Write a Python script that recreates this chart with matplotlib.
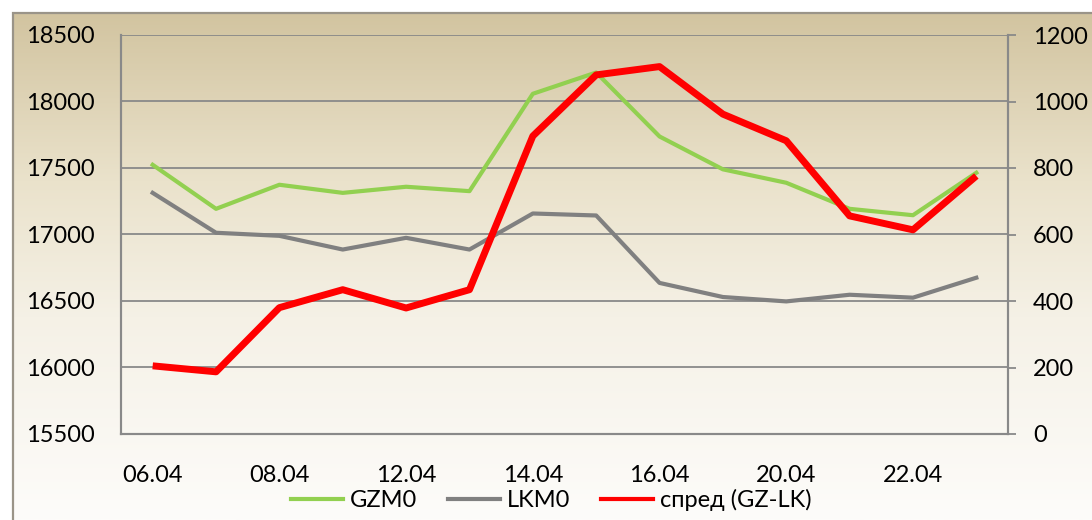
import numpy as np
import matplotlib.pyplot as plt
from matplotlib.colors import LinearSegmentedColormap
from matplotlib.patches import Rectangle
from matplotlib.lines import Line2D

plt.rcParams['font.family'] = ['Lato', 'DejaVu Sans']

dates = ['06.04', '07.04', '08.04', '09.04', '12.04', '13.04', '14.04',
         '15.04', '16.04', '19.04', '20.04', '21.04', '22.04', '23.04']
gzm0 = [17524, 17193, 17374, 17313, 17359, 17326, 18058,
        18218, 17737, 17490, 17389, 17193, 17145, 17464]
lkm0 = [17313, 17013, 16990, 16887, 16975, 16887, 17158,
        17143, 16636, 16530, 16497, 16547, 16525, 16675]
spread = [205, 187, 380, 434, 379, 434, 896,
          1080, 1105, 962, 882, 656, 614, 776]

W, H = 1092, 520
fig = plt.figure(figsize=(W / 100, H / 100), dpi=100)
fig.patch.set_facecolor('white')

# beige gradient panel behind the chart
bg = fig.add_axes([13 / W, 0, 1 - 13 / W, 1 - 13 / H], zorder=-10)
cmap = LinearSegmentedColormap.from_list(
    'bg', [(0.0, '#D2C4A0'), (0.33, '#EAE2CB'), (0.6, '#F5F1E6'), (1.0, '#FDFCFA')])
bg.imshow(np.linspace(0, 1, 256).reshape(-1, 1), aspect='auto', cmap=cmap,
          extent=[0, 1, 0, 1], origin='upper')
bg.set_axis_off()
fig.patches.append(Rectangle((13 / W, -0.1), 1.2, 1 - 13 / H + 0.1,
                             transform=fig.transFigure, fill=False,
                             edgecolor='#9A9488', linewidth=1.6, zorder=-5))

ax = fig.add_axes([121 / W, (H - 434) / H, 887 / W, 399 / H])
ax.set_facecolor('none')
x = np.arange(len(dates))
grid_c = '#898989'

ax.plot(x, gzm0, color='#92D050', linewidth=3, zorder=3)
ax.plot(x, lkm0, color='#808080', linewidth=3, zorder=3)
ax.set_ylim(15500, 18500)
ax.set_yticks(np.arange(15500, 18501, 500))
ax.set_xlim(-0.5, len(dates) - 0.5)
ax.set_xticks(x[::2])
ax.set_xticklabels(dates[::2])
ax.grid(axis='y', color=grid_c, linewidth=1.3)
ax.set_axisbelow(True)
ax.tick_params(axis='y', length=0, pad=19, labelsize=17)
ax.tick_params(axis='x', length=0, pad=22, labelsize=17)

ax2 = ax.twinx()
ax2.plot(x, spread, color='#FF0000', linewidth=5, solid_capstyle='butt', zorder=4)
ax2.set_ylim(0, 1200)
ax2.set_yticks(np.arange(0, 1201, 200))
ax2.tick_params(axis='y', length=6, width=1.3, color=grid_c, pad=12, labelsize=17)

for a in (ax, ax2):
    a.spines['top'].set_visible(False)
    for s in ('left', 'right', 'bottom'):
        a.spines[s].set_color(grid_c)
        a.spines[s].set_linewidth(1.5)

# legend handles all drawn with the same thin line
handles = [Line2D([], [], color='#92D050', linewidth=3, label='GZM0'),
           Line2D([], [], color='#808080', linewidth=3, label='LKM0'),
           Line2D([], [], color='#FF0000', linewidth=3, label='спред (GZ-LK)')]
fig.legend(handles=handles, loc='center', ncol=3, frameon=False,
           bbox_to_anchor=(551 / W, 1 - 500 / H), fontsize=17,
           handlelength=2.2, handletextpad=0.3, columnspacing=1.3)

fig.savefig('out.png', dpi=100)
